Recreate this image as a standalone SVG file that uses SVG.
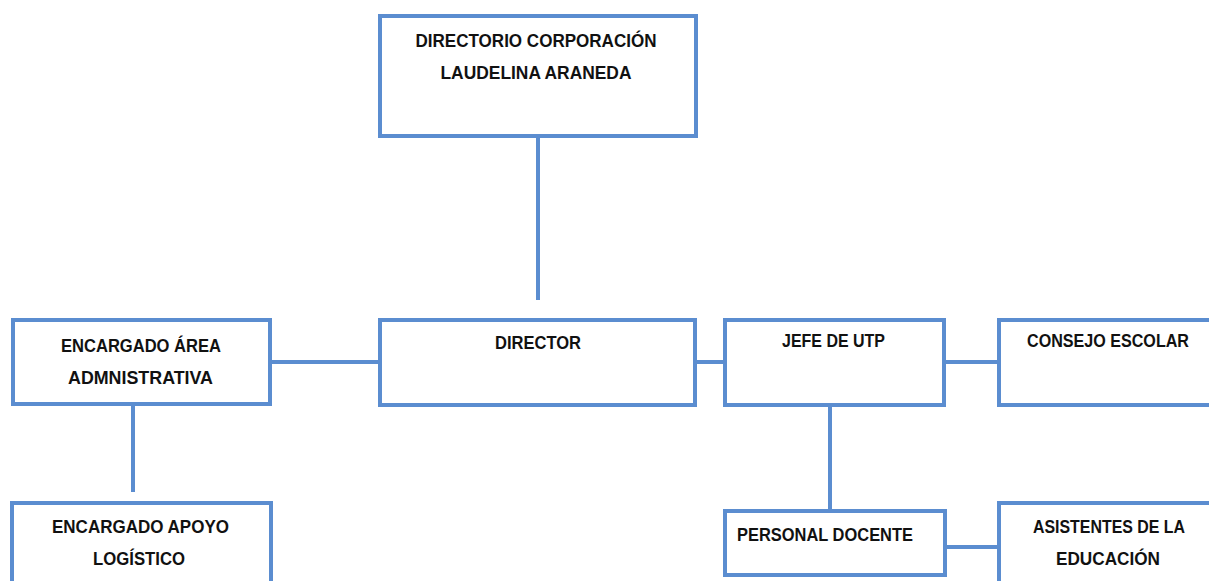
<svg xmlns="http://www.w3.org/2000/svg" width="1209" height="581" viewBox="0 0 1209 581">
<style>
.box{fill:#ffffff;stroke:#5b8dd0;stroke-width:4}
.ln{stroke:#5b8dd0;stroke-width:4;fill:none}
.t{font-family:"Liberation Sans",Arial,sans-serif;font-weight:bold;font-size:18px;fill:#111111;text-anchor:middle}
.tl{text-anchor:start}
</style>
<rect width="1209" height="581" fill="#ffffff"/>
<g id="connectors">
<line class="ln" x1="538" y1="136" x2="538" y2="300"/>
<line class="ln" x1="270" y1="362" x2="380" y2="362"/>
<line class="ln" x1="695" y1="362" x2="725" y2="362"/>
<line class="ln" x1="944" y1="362" x2="999" y2="362"/>
<line class="ln" x1="133" y1="404" x2="133" y2="492"/>
<line class="ln" x1="830" y1="405" x2="830" y2="511"/>
<line class="ln" x1="945" y1="547" x2="999" y2="547"/>
</g>
<g id="directorio">
<rect class="box" x="380" y="16" width="316" height="120"/>
<text class="t" x="536" y="47" textLength="241" lengthAdjust="spacingAndGlyphs">DIRECTORIO CORPORACIÓN</text>
<text class="t" x="536" y="79" textLength="191" lengthAdjust="spacingAndGlyphs">LAUDELINA ARANEDA</text>
</g>
<g id="director">
<rect class="box" x="380" y="320" width="315" height="85"/>
<text class="t" x="538" y="349" textLength="86" lengthAdjust="spacingAndGlyphs">DIRECTOR</text>
</g>
<g id="area-administrativa">
<rect class="box" x="13" y="320" width="257" height="84"/>
<text class="t" x="141" y="352" textLength="160" lengthAdjust="spacingAndGlyphs">ENCARGADO ÁREA</text>
<text class="t" x="140.5" y="384" textLength="145" lengthAdjust="spacingAndGlyphs">ADMNISTRATIVA</text>
</g>
<g id="jefe-utp">
<rect class="box" x="725" y="320" width="219" height="85"/>
<text class="t" x="833.5" y="347" textLength="103" lengthAdjust="spacingAndGlyphs">JEFE DE UTP</text>
</g>
<g id="consejo-escolar">
<rect class="box" x="999" y="320" width="220" height="85"/>
<text class="t" x="1108" y="347" textLength="162" lengthAdjust="spacingAndGlyphs">CONSEJO ESCOLAR</text>
</g>
<g id="apoyo-logistico">
<rect class="box" x="12" y="503" width="259" height="100"/>
<text class="t" x="140.5" y="533" textLength="177" lengthAdjust="spacingAndGlyphs">ENCARGADO APOYO</text>
<text class="t" x="139" y="565" textLength="92" lengthAdjust="spacingAndGlyphs">LOGÍSTICO</text>
</g>
<g id="personal-docente">
<rect class="box" x="725" y="511" width="220" height="64"/>
<text class="t tl" x="737" y="541" textLength="176" lengthAdjust="spacingAndGlyphs">PERSONAL DOCENTE</text>
</g>
<g id="asistentes">
<rect class="box" x="999" y="503" width="220" height="100"/>
<text class="t" x="1109" y="533" textLength="152" lengthAdjust="spacingAndGlyphs">ASISTENTES DE LA</text>
<text class="t" x="1108" y="565" textLength="104" lengthAdjust="spacingAndGlyphs">EDUCACIÓN</text>
</g>
</svg>
